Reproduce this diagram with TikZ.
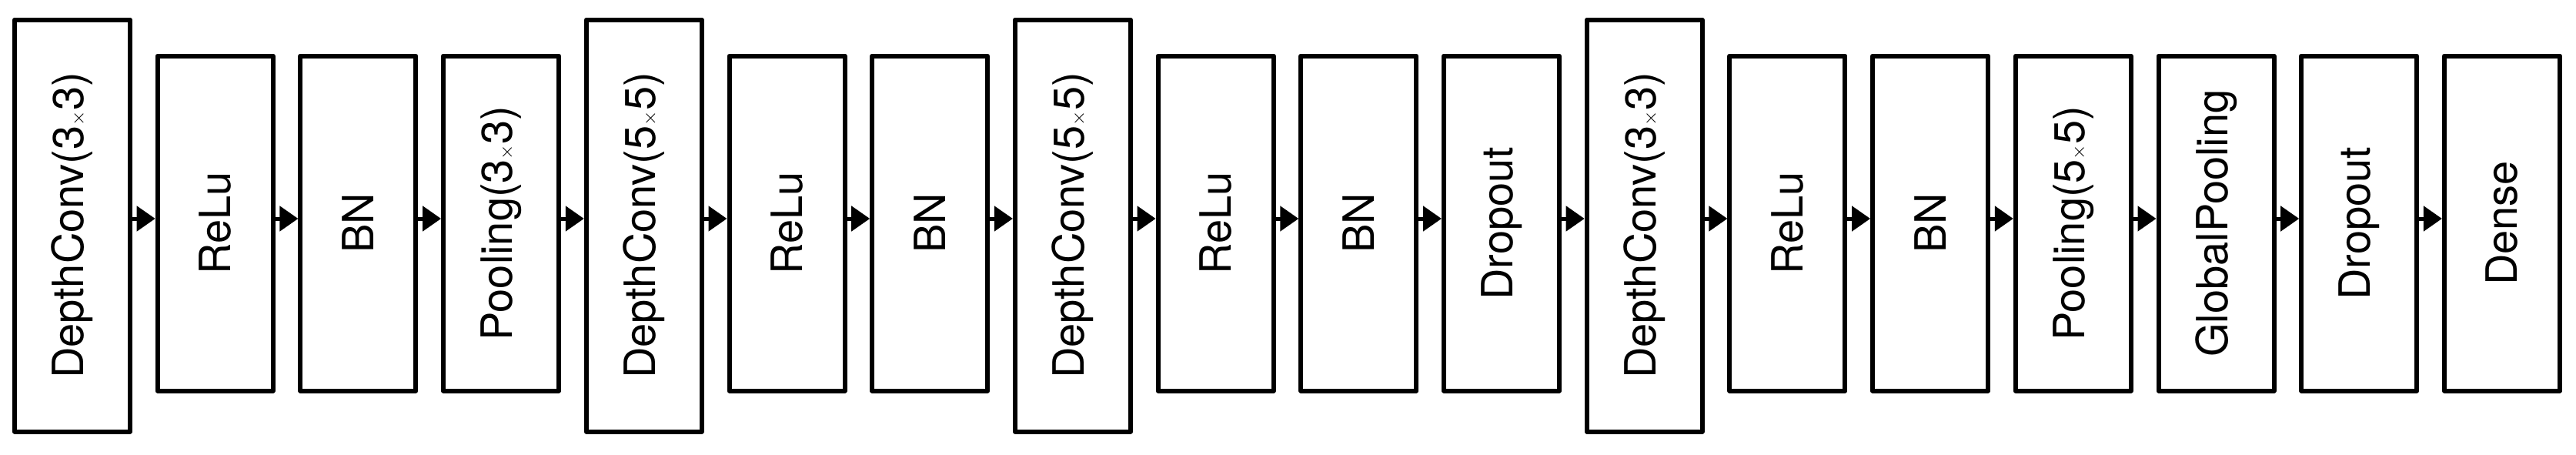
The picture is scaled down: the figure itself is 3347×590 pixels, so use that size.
\documentclass[tikz,border=0pt]{standalone}
\usepackage{fontspec}
\setmainfont{TeX Gyre Heros}
\usetikzlibrary{arrows.meta}
\begin{document}
\begin{tikzpicture}[x=1pt,y=-1pt,
  blk/.style={draw,line width=6pt,line join=round,minimum width=150pt,minimum height=435pt,inner sep=0pt,
    font=\fontsize{56}{60}\selectfont},
  bigblk/.style={blk,minimum height=535pt},
  lbl/.style={rotate=90},
  arr/.style={line width=5pt,-{Triangle[length=24pt,width=32pt]}}]
\useasboundingbox (0,0) rectangle (3347,590);
\def\lst{DepthConv(3$\times$3)/big,ReLu/s,BN/s,Pooling(3$\times$3)/s,DepthConv(5$\times$5)/big,ReLu/s,BN/s,DepthConv(5$\times$5)/big,ReLu/s,BN/s,Dropout/s,DepthConv(3$\times$3)/big,ReLu/s,BN/s,Pooling(5$\times$5)/s,GlobalPooling/s,Dropout/s,Dense/s}
\foreach \t/\k [count=\i from 0] in \lst {
  \pgfmathsetmacro{\cx}{19+75+\i*185.7}
  \ifx\k\empty\fi
  \if b\k \node[bigblk] (n\i) at (\cx,293) {\rotatebox{90}{\t}};
  \else \node[blk] (n\i) at (\cx,290) {\rotatebox{90}{\t}};
  \fi
}
\foreach \i [evaluate=\i as \j using int(\i+1)] in {0,...,16}
  \draw[arr] ([xshift=-3pt]n\i.east |- 0,284) -- (n\j.west |- 0,284);
\end{tikzpicture}
\end{document}
